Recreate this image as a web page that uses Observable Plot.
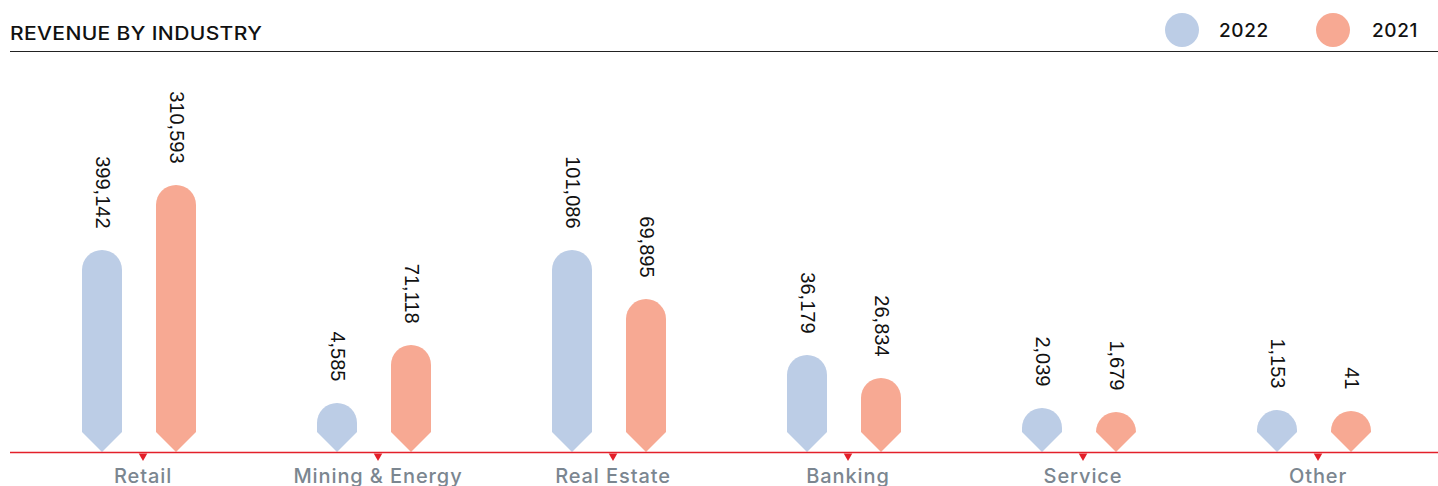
<!DOCTYPE html>
<html>
<head>
<meta charset="utf-8">
<script src="https://cdn.jsdelivr.net/npm/d3@7"></script>
<script src="https://cdn.jsdelivr.net/npm/@observablehq/plot@0.6"></script>
<style>
  html, body { margin: 0; padding: 0; background: #fff; }
  #wrap { width: 1438px; }
  #header { position: relative; height: 50.5px; margin-left: 10px; border-bottom: 1.5px solid #222; font-family: Inter, "Noto Sans", sans-serif; }
  #title { position: absolute; left: 0; top: 23px; font-size: 18px; font-weight: 500; color: #111; letter-spacing: 0.3px; transform: scaleX(1.17); transform-origin: 0 50%; white-space: nowrap; }
  .leg { position: absolute; top: 13px; height: 34px; display: flex; align-items: center; font-size: 19px; font-weight: 500; color: #111; letter-spacing: 0.6px; }
  .sw { width: 34px; height: 34px; border-radius: 50%; margin-right: 20px; }
  #chart svg { display: block; }
</style>
</head>
<body>
<div id="wrap">
  <div id="header">
    <div id="title">REVENUE BY INDUSTRY</div>
    <div class="leg" style="left:1155px"><div class="sw" style="background:#bccde6"></div><span>2022</span></div>
    <div class="leg" style="left:1306px"><div class="sw" style="background:#f7a993"></div><span style="margin-left:2px">2021</span></div>
  </div>
  <div id="chart"></div>
</div>
<script>
const categories = ["Retail", "Mining & Energy", "Real Estate", "Banking", "Service", "Other"];
const years = ["2022", "2021"];
const revenue2022 = [399142, 4585, 101086, 36179, 2039, 1153];
const revenue2021 = [310593, 71118, 69895, 26834, 1679, 41];
// displayed bar heights as drawn in the reference (arbitrary units)
const barHeight2022 = [202, 49, 202, 97, 44, 42];
const barHeight2021 = [267, 107, 153, 74, 40, 41];
const colors = {"2022": "#bccde6", "2021": "#f7a993"};

const rows = [];
categories.forEach((c, i) => {
  rows.push({category: c, year: "2022", value: revenue2022[i], h: barHeight2022[i]});
  rows.push({category: c, year: "2021", value: revenue2021[i], h: barHeight2021[i]});
});
const r22 = rows.filter(d => d.year === "2022");
const r21 = rows.filter(d => d.year === "2021");
const fmt = d3.format(",");
const labelFont = "'Liberation Sans', Arial, sans-serif";

const plot = Plot.plot({
  width: 1438,
  height: 434,
  marginTop: 0,
  marginBottom: 34,
  marginLeft: 10,
  marginRight: 0,
  x: {domain: categories, range: [24.4, 1435.6], padding: 0, axis: null},
  y: {domain: [0, 400], axis: null},
  style: {fontFamily: "Inter, 'Noto Sans', sans-serif", background: "#fff"},
  marks: [
    Plot.barY(r22, {x: "category", y: "h", fill: d => colors[d.year], insetLeft: 57, insetRight: 138}),
    Plot.barY(r21, {x: "category", y: "h", fill: d => colors[d.year], insetLeft: 131, insetRight: 64}),
    Plot.ruleY([0], {stroke: "#e3202a", strokeWidth: 1.5}),
    Plot.dot(categories, {x: d => d, y: 0, dy: 3.5, symbol: "triangle", r: 3.2, fill: "#e3202a", rotate: 180}),
    Plot.text(r22, {x: "category", y: "h", dx: -40.6, dy: -22, text: d => fmt(d.value), rotate: 90, textAnchor: "end", fontSize: 20, fill: "#111", fontFamily: labelFont}),
    Plot.text(r21, {x: "category", y: "h", dx: 33.4, dy: -22, text: d => fmt(d.value), rotate: 90, textAnchor: "end", fontSize: 20, fill: "#111", fontFamily: labelFont}),
    Plot.text(categories, {x: d => d, y: 0, dy: 24, text: d => d, fontSize: 20, fill: "#7b8690", fontWeight: 500})
  ]
});

// reshape each bar rect into a pill-top, arrow-bottom shape
d3.select(plot).selectAll('g[aria-label="bar"] rect').each(function() {
  const el = d3.select(this);
  const x = +el.attr("x"), y = +el.attr("y"), w = +el.attr("width"), h = +el.attr("height");
  const r = w / 2, cx = x + r, bottom = y + h;
  const p = `M${x},${y + r}A${r},${r} 0 0 1 ${x + w},${y + r}L${x + w},${bottom - r}L${cx},${bottom}L${x},${bottom - r}Z`;
  const path = document.createElementNS("http://www.w3.org/2000/svg", "path");
  path.setAttribute("d", p);
  path.setAttribute("fill", el.attr("fill"));
  this.replaceWith(path);
});
// category labels slightly tracked like the reference's wide face
d3.select(plot).selectAll('g[aria-label="text"]').filter((d, i, n) => i === n.length - 1).style("letter-spacing", "0.9px");

document.getElementById("chart").appendChild(plot);
</script>
</body>
</html>
